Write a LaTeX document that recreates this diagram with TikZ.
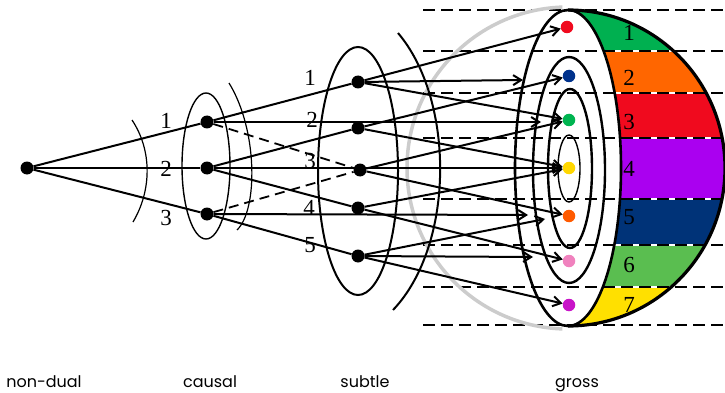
\documentclass[tikz,border=0pt]{standalone}
\usepackage{fontspec}
\setmainfont{Liberation Serif}
\newfontfamily\capfont{Poppins}
\usetikzlibrary{arrows.meta}
\definecolor{dotRed}{RGB}{240,10,30}
\definecolor{dotBlue}{RGB}{0,50,140}
\definecolor{dotGreen}{RGB}{0,180,80}
\definecolor{dotYellow}{RGB}{255,215,0}
\definecolor{dotOrange}{RGB}{255,90,0}
\definecolor{dotPink}{RGB}{240,130,190}
\definecolor{dotPurple}{RGB}{200,20,200}
\definecolor{bandGreen}{RGB}{0,176,80}
\definecolor{bandOrange}{RGB}{255,102,0}
\definecolor{bandRed}{RGB}{240,10,30}
\definecolor{bandViolet}{RGB}{170,0,240}
\definecolor{bandNavy}{RGB}{0,51,120}
\definecolor{bandLight}{RGB}{90,190,80}
\definecolor{bandYellow}{RGB}{255,224,0}
\tikzset{
  dot/.style={circle, fill=black, inner sep=0pt, minimum size=13pt},
  gdot/.style={circle, fill=#1, inner sep=0pt, minimum size=12.5pt},
  link/.style={line width=2pt},
  dashlink/.style={line width=1.8pt, dash pattern=on 10pt off 6pt},
  flow/.style={line width=2pt, -{Straight Barb[length=8pt, width=10pt]}},
  guide/.style={line width=1.6pt, dash pattern=on 12pt off 6pt},
  num/.style={font=\fontsize{23}{23}\selectfont, inner sep=0pt},
  levellbl/.style={font=\capfont\fontsize{16}{16}\selectfont, anchor=base},
}

\begin{document}
\begin{tikzpicture}[x=1pt, y=-1pt]
  \useasboundingbox (0,0) rectangle (725,393);
  % coloured shell of the sphere
  \begin{scope}
    \clip (568,10) arc[start angle=-90, end angle=90, x radius=53, y radius=158]
                   arc[start angle=90, end angle=-90, x radius=157, y radius=158] -- cycle;
    \fill[bandGreen]  (540,10)  rectangle (730,51);
    \fill[bandOrange] (540,51)  rectangle (730,93);
    \fill[bandRed]    (540,93)  rectangle (730,138);
    \fill[bandViolet] (540,138) rectangle (730,199);
    \fill[bandNavy]   (540,199) rectangle (730,245);
    \fill[bandLight]  (540,245) rectangle (730,287);
    \fill[bandYellow] (540,287) rectangle (730,326);
    \foreach \y in {51,93,138,199,245,287}
      \draw[white, line width=1.6pt] (540,\y) -- (730,\y);
  \end{scope}
  \foreach \y in {10,51,93,138,199,245,287,325}
    \draw[guide] (423,\y) -- (725,\y);
  % sphere outline
  \draw[gray!40, line width=3.5pt] (568,168) ++(-92:161) arc[start angle=-92, end angle=-268, radius=161];
  \draw[line width=3.2pt] (568,10) arc[start angle=-90, end angle=90, x radius=157, y radius=158];
  % gross rings
  \draw[line width=2.6pt] (568,168) ellipse [x radius=53, y radius=158];
  \draw[line width=2.4pt] (569,170) ellipse [x radius=36, y radius=113];
  \draw[line width=2.4pt] (570,168.5) ellipse [x radius=22, y radius=79.5];
  \draw[line width=1.4pt] (569,168.5) ellipse [x radius=11, y radius=33.5];
  % causal and subtle sheaths
  \draw[line width=1.2pt] (132,120) .. controls (152,150) and (152,190) .. (133,222);
  \draw[line width=1.4pt] (206,166) ellipse [x radius=24, y radius=73];
  \draw[line width=1.2pt] (229,83) .. controls (258,130) and (258,210) .. (237,230);
  \draw[line width=2pt] (358,171) ellipse [x radius=40, y radius=124];
  \draw[line width=2pt] (398,33) .. controls (455,100) and (455,245) .. (393,310);

  % points
  \node[dot] (nd) at (27,168) {};
  \node[dot] (c1) at (207,122) {};
  \node[dot] (c2) at (207,168) {};
  \node[dot] (c3) at (207,214) {};
  \node[dot] (s1) at (358,82) {};
  \node[dot] (s2) at (358,128) {};
  \node[dot] (s3) at (360,170) {};
  \node[dot] (s4) at (358,208) {};
  \node[dot] (s5) at (358,256) {};
  \node[gdot=dotRed]    (g1) at (567,27) {};
  \node[gdot=dotBlue]   (g2) at (569,76) {};
  \node[gdot=dotGreen]  (g3) at (569,120) {};
  \node[gdot=dotYellow] (g4) at (569,168) {};
  \node[gdot=dotOrange] (g5) at (569,216) {};
  \node[gdot=dotPink]   (g6) at (569,261) {};
  \node[gdot=dotPurple] (g7) at (569,305) {};
  \coordinate (h1) at (541,122);
  \coordinate (h2) at (523,80);
  \coordinate (h3) at (528,215);
  \coordinate (h4) at (545,219);
  \coordinate (h5) at (533,257);

  % connections
  \draw[link] (nd) -- (c1);
  \draw[link] (nd) -- (c2);
  \draw[link] (nd) -- (c3);
  \draw[link] (c1) -- (s1);
  \draw[link] (c2) -- (s2);
  \draw[link] (c2) -- (s4);
  \draw[link] (c3) -- (s5);
  \draw[dashlink] (c1) -- (s3);
  \draw[dashlink] (c3) -- (s3);
  \draw[flow] (c1) -- (h1);
  \draw[flow] (c2) -- (g4);
  \draw[flow] (c3) -- (h3);
  \draw[flow] (s1) -- (g1);
  \draw[flow] (s1) -- (h2);
  \draw[flow] (s1) -- (g3);
  \draw[flow] (s2) -- (g2);
  \draw[flow] (s2) -- (g4);
  \draw[flow] (s3) -- (g3);
  \draw[flow] (s3) -- (g5);
  \draw[flow] (s4) -- (g4);
  \draw[flow] (s4) -- (g6);
  \draw[flow] (s5) -- (h4);
  \draw[flow] (s5) -- (h5);
  \draw[flow] (s5) -- (g7);

  % numbers
  \node[num] (cl1) at (166,121) {1};
  \node[num] (cl2) at (166,169) {2};
  \node[num] (cl3) at (166,218) {3};
  \node[num] (sl1) at (310,78) {1};
  \node[num] (sl2) at (312,120) {2};
  \node[num] (sl3) at (310,161) {3};
  \node[num] (sl4) at (309,208) {4};
  \node[num] (sl5) at (310,245) {5};
  \foreach \n/\y in {1/33,2/78,3/122,4/169,5/217,6/265,7/305}
    \node[num] (bl\n) at (629,\y) {\n};

  % levels
  \node[levellbl] (lnd) at (44,387) {non-dual};
  \node[levellbl] (lca) at (210,387) {causal};
  \node[levellbl] (lsu) at (365,387) {subtle};
  \node[levellbl] (lgr) at (577,387) {gross};
\end{tikzpicture}
\end{document}
